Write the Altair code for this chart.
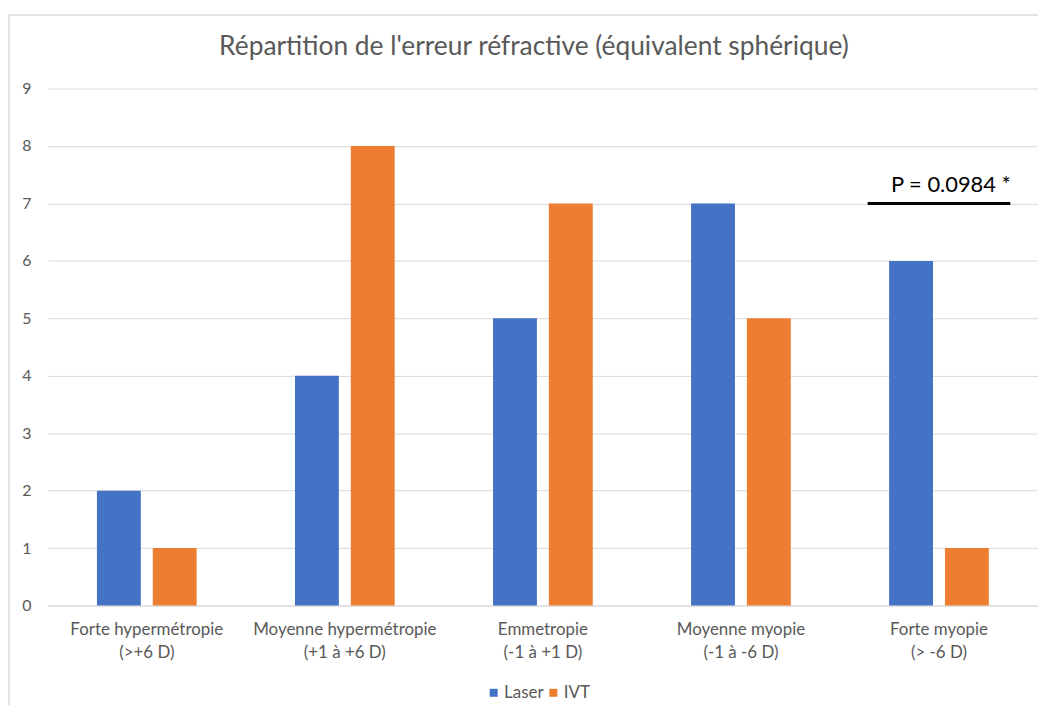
import altair as alt
import pandas as pd

categories = [
    "Forte hypermétropie\n(>+6 D)",
    "Moyenne hypermétropie\n(+1 à +6 D)",
    "Emmetropie\n(-1 à +1 D)",
    "Moyenne myopie\n(-1 à -6 D)",
    "Forte myopie\n(> -6 D)",
]
laser = [2, 4, 5, 7, 6]
ivt = [1, 8, 7, 5, 1]
series = ["Laser", "IVT"]
colors = ["#4472C4", "#ED7D31"]
y_ticks = list(range(0, 10))
annot_cat = categories[4]
annot_y = 7
annot_text = "P = 0.0984 *"
title = "Répartition de l'erreur réfractive (équivalent sphérique)"

rows = []
for c, a, b in zip(categories, laser, ivt):
    rows.append({"cat": c, "serie": "Laser", "val": a})
    rows.append({"cat": c, "serie": "IVT", "val": b})
df = pd.DataFrame(rows)
ann = pd.DataFrame([{"cat": annot_cat, "y": annot_y, "t": annot_text}])

FONT = "Lato"
GREY = "#595959"
W, H = 996, 520

xscale = alt.Scale(domain=categories, paddingInner=0.28, paddingOuter=0.14)

bars = alt.Chart(df).mark_bar().encode(
    x=alt.X("cat:N", sort=categories, scale=xscale,
            axis=alt.Axis(title=None, labelAngle=0, ticks=False, domainColor="#D9D9D9",
                          labelColor=GREY, labelFontSize=17, labelFont=FONT,
                          labelPadding=16, labelLineHeight=23, labelLimit=400,
                          labelExpr="split(datum.label, '\\n')")),
    xOffset=alt.XOffset("serie:N", sort=series,
                        scale=alt.Scale(domain=series, paddingInner=0.214, paddingOuter=0.384)),
    y=alt.Y("val:Q", scale=alt.Scale(domain=[0, 9], nice=False),
            axis=alt.Axis(title=None, values=y_ticks, format="d", ticks=False, domain=False,
                          gridColor="#D9D9D9", labelColor=GREY, labelFontSize=16,
                          labelFont=FONT, labelPadding=17)),
    color=alt.Color("serie:N", sort=series,
                    scale=alt.Scale(domain=series, range=colors),
                    legend=alt.Legend(title=None, orient="none", direction="horizontal",
                                      legendX=440, legendY=599,
                                      symbolType="square", symbolSize=64, symbolStrokeWidth=0,
                                      symbolOffset=0, labelOffset=2,
                                      labelFontSize=17, labelColor=GREY, labelFont=FONT,
                                      columnPadding=1)),
)

line = alt.Chart(ann).mark_rect(fill="black", stroke="black", strokeWidth=3).encode(
    x=alt.X("cat:N", sort=categories, scale=xscale),
    y=alt.Y("y:Q"),
    y2="y2:Q",
).transform_calculate(y2="datum.y")

text = alt.Chart(ann).mark_text(fontSize=22, font=FONT, color="black", baseline="bottom", dy=-7, dx=12).encode(
    x=alt.X("cat:N", sort=categories, scale=xscale),
    y=alt.Y("y:Q"),
    text="t:N",
)

frame = alt.Chart(ann).mark_rect(fill=None, stroke="#D9D9D9", strokeWidth=1.5).encode(
    x=alt.value(-39), x2=alt.value(W + 20), y=alt.value(-74), y2=alt.value(H + 140)
)

chart = alt.layer(frame, bars, line, text).properties(
    width=W, height=H,
    title=alt.TitleParams(title, fontSize=26.5, font=FONT, color=GREY, fontWeight="normal",
                          anchor="middle", offset=-46, dx=-9),
    autosize=alt.AutoSizeParams(type="none"),
    padding={"left": 40, "top": 79, "right": 0, "bottom": 98},
).configure_view(stroke=None)

chart.save("out.html", embed_options={"renderer": "svg", "actions": False})
